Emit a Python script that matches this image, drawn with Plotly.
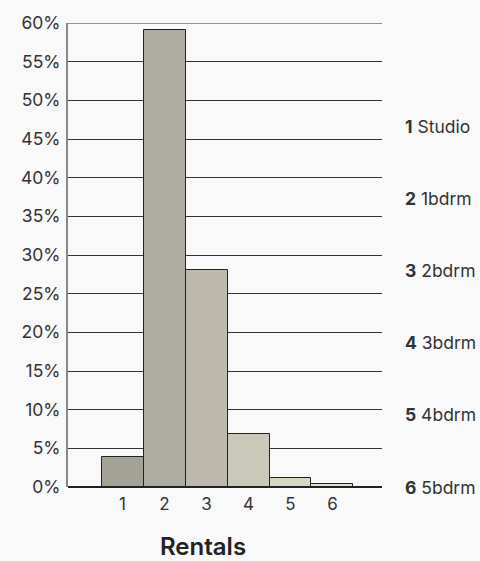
import plotly.graph_objects as go

# Share of rental units by number of bedrooms
categories = [1, 2, 3, 4, 5, 6]
shares = [3.9, 59.1, 28.1, 6.8, 1.1, 0.4]
legend_codes = ["1", "2", "3", "4", "5", "6"]
legend_names = ["Studio", "1bdrm", "2bdrm", "3bdrm", "4bdrm", "5bdrm"]
bar_colors = ["#a4a294", "#aeaca0", "#bdbaad", "#cac8b8", "#d6d4c3", "#e0dfcf"]
y_ticks = list(range(0, 61, 5))

FONT = "Inter, Roboto, sans-serif"
TEXT = "#333333"

fig = go.Figure(
    go.Bar(
        x=categories,
        y=shares,
        width=1,
        marker=dict(color=bar_colors, line=dict(color="#222222", width=1)),
        hoverinfo="x+y",
    )
)

# Right-hand key: bold code followed by the bedroom label
annotations = []
n = len(legend_codes)
for i, (code, name) in enumerate(zip(legend_codes, legend_names)):
    annotations.append(
        dict(
            x=1.067, xref="paper", xanchor="left",
            y=(n - 1 - i) * 0.1556, yref="paper", yanchor="middle",
            text=f"<b>{code}</b> {name}",
            showarrow=False,
            font=dict(family=FONT, size=17.5, color=TEXT),
        )
    )

annotations.append(
    dict(
        x=0.43, xref="paper", xanchor="center",
        y=-0.128, yref="paper", yanchor="middle",
        text="Rentals",
        showarrow=False,
        font=dict(family=FONT, size=24, color="#222222", weight=600),
    )
)

fig.update_layout(
    width=480,
    height=561,
    margin=dict(l=68, r=98, t=18, b=74),
    paper_bgcolor="#f9f9f9",
    plot_bgcolor="#f9f9f9",
    bargap=0,
    showlegend=False,
    font=dict(family=FONT, size=17, color=TEXT),
    annotations=annotations,
    # top boundary line at the 60% mark
    shapes=[
        dict(
            type="line", xref="paper", x0=0, x1=1, yref="y", y0=60, y1=60,
            line=dict(color="#6f6f6f", width=1.5), layer="below",
        )
    ],
    xaxis=dict(
        range=[-0.3, 7.18],
        tickvals=categories,
        ticktext=[str(c) for c in categories],
        showgrid=False,
        zeroline=False,
        showline=False,
        ticks="",
        ticklabelstandoff=5,
        tickfont=dict(family=FONT, size=17, color=TEXT),
        fixedrange=True,
    ),
    yaxis=dict(
        range=[0, 60],
        tickvals=y_ticks,
        ticktext=[f"{v}%" for v in y_ticks],
        showgrid=True,
        gridcolor="#333333",
        gridwidth=1,
        zeroline=True,
        zerolinecolor="#222222",
        zerolinewidth=1.5,
        showline=True,
        linecolor="#888888",
        linewidth=2,
        ticks="",
        ticklabelstandoff=2,
        tickfont=dict(family=FONT, size=17.5, color=TEXT),
        fixedrange=True,
    ),
)

fig.write_html("out.html")
